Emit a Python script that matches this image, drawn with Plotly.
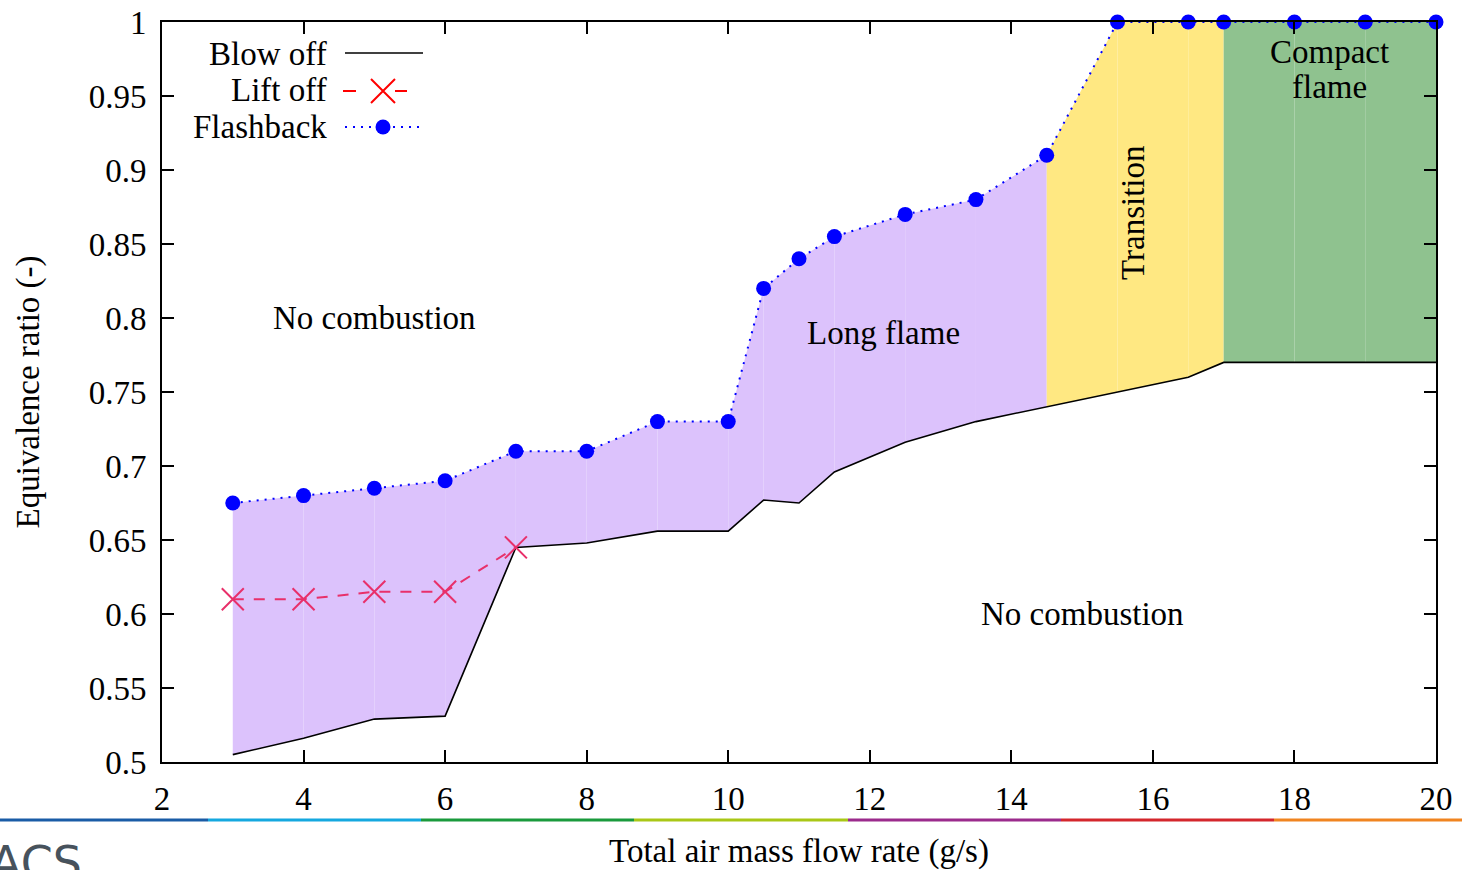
import plotly.graph_objects as go

# ---------------- data ----------------
mass_flow = [3, 4, 5, 6, 7, 8, 9, 10, 10.5, 11, 11.5, 12.5, 13.5, 14.5, 15.5, 16.5, 17, 18, 19, 20]
flashback = [0.675, 0.68, 0.685, 0.69, 0.71, 0.71, 0.73, 0.73, 0.82, 0.84, 0.855, 0.87, 0.88, 0.91,
             1.0, 1.0, 1.0, 1.0, 1.0, 1.0]
blow_off = [0.505, 0.516, 0.529, 0.531, 0.645, 0.648, 0.656, 0.656, 0.677, 0.675, 0.696, 0.716, 0.73, 0.74,
            0.75, 0.76, 0.77, 0.77, 0.77, 0.77]
lift_off_x = [3, 4, 5, 6, 7]
lift_off_y = [0.61, 0.61, 0.615, 0.615, 0.645]

regions = ["Long flame", "Transition", "Compact flame"]
region_start = [3, 14.5, 17]
region_colors = ["#dcc2fc", "#ffe882", "#8fc28f"]

x_ticks = [2, 4, 6, 8, 10, 12, 14, 16, 18, 20]

# ---------------- layout geometry ----------------
W, H = 1462, 870
L, R, T, B = 162, 1436, 22, 762
FONT = "Liberation Serif"
FS = 33


def px(x):
    return (x - L) / (R - L)


def py(y):
    return (B - y) / (B - T)


fig = go.Figure()


def region_color(x0):
    col = region_colors[0]
    for s, c in zip(region_start, region_colors):
        if x0 >= s:
            col = c
    return col


# region fills, one polygon per segment
for i in range(len(mass_flow) - 1):
    x0, x1 = mass_flow[i], mass_flow[i + 1]
    xs = [x0, x1, x1, x0, x0]
    ys = [blow_off[i], blow_off[i + 1], flashback[i + 1], flashback[i], blow_off[i]]
    fig.add_trace(go.Scatter(x=xs, y=ys, mode="lines", fill="toself",
                             fillcolor=region_color(x0), line=dict(width=0),
                             hoverinfo="skip", showlegend=False))

# blow off
fig.add_trace(go.Scatter(x=mass_flow, y=blow_off, mode="lines",
                         line=dict(color="black", width=1.6), name="Blow off", showlegend=False))
# lift off
fig.add_trace(go.Scatter(x=lift_off_x, y=lift_off_y, mode="lines+markers",
                         line=dict(color="#e8306a", width=2, dash="11px,10px"),
                         marker=dict(symbol="x-thin-open", size=22, color="#e8306a",
                                     line=dict(width=2, color="#e8306a")),
                         name="Lift off", showlegend=False))
# flashback
fig.add_trace(go.Scatter(x=mass_flow, y=flashback, mode="lines+markers",
                         line=dict(color="blue", width=2, dash="2px,6px"),
                         marker=dict(symbol="circle", size=15, color="blue"),
                         cliponaxis=False, name="Flashback", showlegend=False))

# ---------------- manual key (gnuplot style: text left, sample right) ----------------
leg_y = [54, 90, 127]
leg_names = ["Blow off", "Lift off", "Flashback"]
fig.add_trace(go.Scatter(x=[345, 423], y=[53, 53], mode="lines", line=dict(color="black", width=1.6),
                         xaxis="x2", yaxis="y2", showlegend=False, hoverinfo="skip"))
fig.add_trace(go.Scatter(x=[343, 356], y=[91, 91], mode="lines", line=dict(color="red", width=2),
                         xaxis="x2", yaxis="y2", showlegend=False, hoverinfo="skip"))
fig.add_trace(go.Scatter(x=[395, 407], y=[91, 91], mode="lines", line=dict(color="red", width=2),
                         xaxis="x2", yaxis="y2", showlegend=False, hoverinfo="skip"))
fig.add_trace(go.Scatter(x=[383], y=[91], mode="markers",
                         marker=dict(symbol="x-thin-open", size=24, color="red", line=dict(width=2, color="red")),
                         xaxis="x2", yaxis="y2", showlegend=False, hoverinfo="skip"))
fig.add_trace(go.Scatter(x=[345, 420], y=[127, 127], mode="lines",
                         line=dict(color="blue", width=2, dash="2px,6px"),
                         xaxis="x2", yaxis="y2", showlegend=False, hoverinfo="skip"))
fig.add_trace(go.Scatter(x=[383], y=[127], mode="markers",
                         marker=dict(symbol="circle", size=15, color="blue"),
                         xaxis="x2", yaxis="y2", showlegend=False, hoverinfo="skip"))

annotations = []
for name, yy in zip(leg_names, leg_y):
    annotations.append(dict(x=px(329), y=py(yy), xref="paper", yref="paper", text=name,
                            showarrow=False, xanchor="right", yanchor="middle",
                            font=dict(family=FONT, size=FS, color="black")))

# region labels
annotations += [
    dict(x=5.0, y=0.8, text="No combustion", showarrow=False,
         font=dict(family=FONT, size=FS, color="black")),
    dict(x=15.0, y=0.6, text="No combustion", showarrow=False,
         font=dict(family=FONT, size=FS, color="black")),
    dict(x=12.2, y=0.79, text="Long flame", showarrow=False,
         font=dict(family=FONT, size=FS, color="black")),
    dict(x=15.72, y=0.871, text="Transition", showarrow=False, textangle=-90,
         font=dict(family=FONT, size=FS, color="black")),
    dict(x=18.49, y=0.9797, text="Compact", showarrow=False,
         font=dict(family=FONT, size=FS, color="black")),
    dict(x=18.49, y=0.956, text="flame", showarrow=False,
         font=dict(family=FONT, size=FS, color="black")),
]

# slide decoration: logo fragment
annotations.append(dict(x=px(84), y=py(834), xref="paper", yref="paper", text="ACS",
                        showarrow=False, xanchor="right", yanchor="top",
                        font=dict(family="DejaVu Sans", size=46, color="#47525c")))

# slide decoration: coloured rule
bar_colors = ["#1a5ca6", "#15a8df", "#1a9a3c", "#a9c716", "#9b2b8c", "#d4262c", "#f08420"]
bar_edges = [0, 208, 421, 634, 848, 1061, 1274, 1462]
shapes = []
for c, a, b in zip(bar_colors, bar_edges[:-1], bar_edges[1:]):
    shapes.append(dict(type="line", xref="paper", yref="paper", x0=px(a), x1=px(b),
                       y0=py(820), y1=py(820), line=dict(color=c, width=3)))

fig.update_layout(
    width=W, height=H,
    margin=dict(l=L, r=W - R, t=T, b=H - B, autoexpand=False),
    paper_bgcolor="white", plot_bgcolor="white",
    font=dict(family=FONT, size=FS, color="black"),
    showlegend=False,
    annotations=annotations,
    shapes=shapes,
    xaxis=dict(range=[2, 20], tickvals=x_ticks, ticks="inside", ticklen=12, tickwidth=1.5,
               tickcolor="black", showline=True, linecolor="black", linewidth=2, mirror="ticks",
               showgrid=False, zeroline=False, automargin=False, ticklabelstandoff=6,
               tickfont=dict(family=FONT, size=FS),
               title=dict(text="Total air mass flow rate (g/s)", font=dict(family=FONT, size=FS), standoff=30)),
    yaxis=dict(range=[0.5, 1.0], tick0=0.5, dtick=0.05, ticks="inside", ticklen=12, tickwidth=1.5,
               tickcolor="black", showline=True, linecolor="black", linewidth=2, mirror="ticks",
               showgrid=False, zeroline=False, automargin=False, ticklabelstandoff=7,
               tickfont=dict(family=FONT, size=FS),
               title=dict(text="Equivalence ratio (-)", font=dict(family=FONT, size=FS), standoff=39)),
    xaxis2=dict(range=[L, R], overlaying="x", visible=False, fixedrange=True),
    yaxis2=dict(range=[B, T], overlaying="y", visible=False, fixedrange=True),
)

fig.write_html("out.html", config={"displayModeBar": False},
               post_script="document.body.style.margin='0';document.body.style.padding='0';"
                           "document.body.style.overflow='hidden';")
